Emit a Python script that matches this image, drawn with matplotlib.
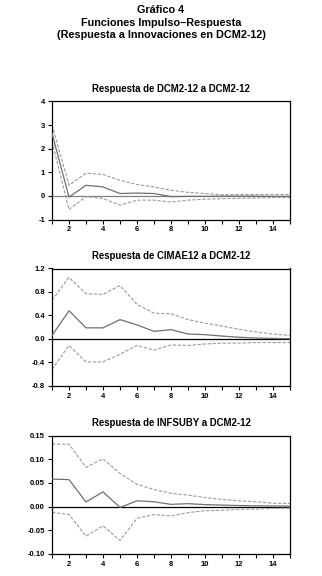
import numpy as np
import matplotlib
matplotlib.use("Agg")
import matplotlib.pyplot as plt

plt.rcParams['font.family'] = ['Liberation Sans', 'DejaVu Sans']

periods = list(range(1, 16))

# Respuesta de DCM2-12 a DCM2-12
dcm_resp = [2.65, -0.05, 0.45, 0.38, 0.10, 0.12, 0.10, -0.03, -0.02, -0.02, -0.01, -0.01, -0.01, -0.02, -0.02]
dcm_up = [3.00, 0.45, 0.96, 0.91, 0.66, 0.48, 0.38, 0.24, 0.15, 0.10, 0.05, 0.06, 0.06, 0.06, 0.06]
dcm_lo = [2.30, -0.58, -0.03, -0.11, -0.39, -0.18, -0.18, -0.26, -0.18, -0.14, -0.12, -0.10, -0.09, -0.07, -0.07]

# Respuesta de CIMAE12 a DCM2-12
cim_resp = [0.06, 0.48, 0.19, 0.19, 0.33, 0.24, 0.13, 0.16, 0.085, 0.074, 0.05, 0.03, 0.017, 0.01, 0.005]
cim_up = [0.66, 1.05, 0.77, 0.76, 0.91, 0.59, 0.44, 0.43, 0.33, 0.27, 0.22, 0.165, 0.12, 0.085, 0.06]
cim_lo = [-0.52, -0.11, -0.39, -0.39, -0.26, -0.11, -0.19, -0.10, -0.11, -0.085, -0.07, -0.07, -0.06, -0.06, -0.06]

# Respuesta de INFSUBY a DCM2-12
inf_resp = [0.058, 0.057, 0.0095, 0.031, -0.002, 0.012, 0.010, 0.0045, 0.006, 0.004, 0.003, 0.002, 0.0015, 0.001, 0.001]
inf_up = [0.132, 0.132, 0.083, 0.101, 0.070, 0.047, 0.036, 0.028, 0.024, 0.019, 0.015, 0.012, 0.010, 0.007, 0.0065]
inf_lo = [-0.0125, -0.017, -0.063, -0.041, -0.072, -0.025, -0.017, -0.020, -0.013, -0.009, -0.008, -0.006, -0.0055, -0.004, -0.0035]

titles = ["Respuesta de DCM2-12 a DCM2-12",
          "Respuesta de CIMAE12 a DCM2-12",
          "Respuesta de INFSUBY a DCM2-12"]
yticks = [[-1, 0, 1, 2, 3, 4],
          [-0.8, -0.4, 0.0, 0.4, 0.8, 1.2],
          [-0.10, -0.05, 0.00, 0.05, 0.10, 0.15]]
ylabels = [["-1", "0", "1", "2", "3", "4"],
           ["-0.8", "-0.4", "0.0", "0.4", "0.8", "1.2"],
           ["-0.10", "-0.05", "0.00", "0.05", "0.10", "0.15"]]
series = [(dcm_resp, dcm_up, dcm_lo), (cim_resp, cim_up, cim_lo), (inf_resp, inf_up, inf_lo)]

W, H = 322, 576
fig = plt.figure(figsize=(W / 100, H / 100), dpi=100)
fig.patch.set_facecolor('white')

fig.text(161 / W, 1 - 10 / H, "Gráfico 4", ha='center', va='center', fontsize=7.8, fontweight='bold')
fig.text(161 / W, 1 - 22.5 / H, "Funciones Impulso–Respuesta", ha='center', va='center', fontsize=7.8, fontweight='bold')
fig.text(161 / W, 1 - 35 / H, "(Respuesta a Innovaciones en DCM2-12)", ha='center', va='center', fontsize=7.8, fontweight='bold')

# top, bottom in pixels of each panel
boxes = [(101.5, 219.5), (268.5, 386.0), (435.7, 553.7)]
zero_col = ['#808080', 'black', 'black']

for k in range(3):
    top, bot = boxes[k]
    ax = fig.add_axes([52 / W, 1 - bot / H, 238 / W, (bot - top) / H])
    resp, up, lo = series[k]
    ax.axhline(0, color=zero_col[k], lw=0.9, zorder=1)
    ax.plot(periods, up, color='#9a9a9a', lw=0.8, ls=(0, (3, 1.5)), zorder=2)
    ax.plot(periods, lo, color='#9a9a9a', lw=0.8, ls=(0, (3, 1.5)), zorder=2)
    ax.plot(periods, resp, color='#707070', lw=0.9, zorder=3)
    ax.set_xlim(1, 15)
    ax.set_ylim(yticks[k][0], yticks[k][-1])
    ax.set_xticks(periods)
    ax.set_xticklabels([str(p) if p % 2 == 0 else "" for p in periods])
    ax.set_yticks(yticks[k])
    ax.set_yticklabels(ylabels[k])
    ax.tick_params(direction='out', length=3, width=0.8, labelsize=5.5, pad=2)
    for lab in ax.get_xticklabels() + ax.get_yticklabels():
        lab.set_fontweight('bold')
    for s in ax.spines.values():
        s.set_linewidth(0.9)
    fig.text(171 / W, 1 - (top - 12.5) / H, titles[k], ha='center', va='center', fontsize=6.9, fontweight='bold')

fig.savefig("out.png", dpi=100)
